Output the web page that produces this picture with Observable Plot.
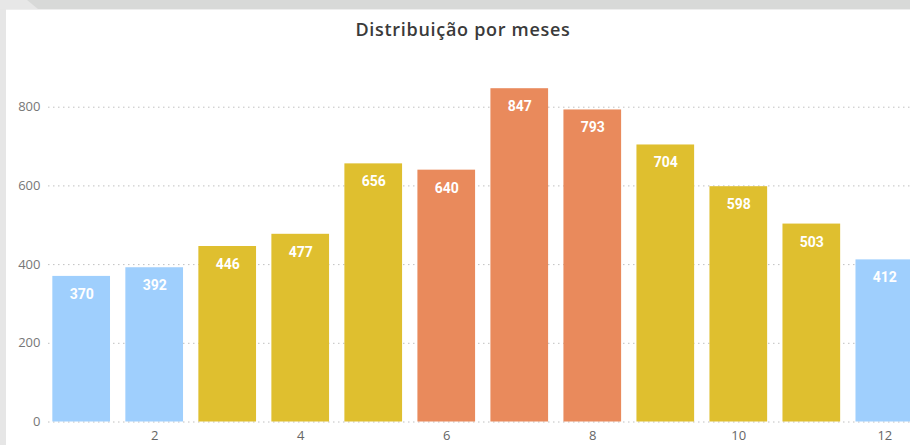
<!DOCTYPE html>
<html>
<head>
<meta charset="utf-8">
<script src="https://cdn.jsdelivr.net/npm/d3@7"></script>
<script src="https://cdn.jsdelivr.net/npm/@observablehq/plot@0.6"></script>
<style>
  html, body { margin: 0; padding: 0; background: #ffffff; overflow: hidden; width: 910px; height: 445px; }
  #wrap { position: relative; width: 910px; height: 445px; }
  #title { height: 50px; box-sizing: border-box; padding-top: 19px; padding-left: 16px; text-align: center;
           font-family: 'Open Sans', sans-serif; font-weight: 600; font-size: 18px; line-height: 20px;
           letter-spacing: 0.7px; color: #3a3a3a; }
  #topband { position: absolute; left: 0; top: 0; width: 910px; height: 9px; background: #d8d9d8; }
  #topline { position: absolute; left: 0; top: 9px; width: 910px; height: 1px; background: #eeeeee; }
  #corner { position: absolute; left: 0; top: 0; width: 38px; height: 9px; background: #e7e7e7;
            clip-path: polygon(0 0, 27px 0, 38px 100%, 0 100%); }
  #leftband { position: absolute; left: 0; top: 9px; width: 6px; height: 436px; background: #e6e6e6; }
  #chart svg { display: block; }
</style>
</head>
<body>
<div id="wrap">
  <div id="title">Distribuição por meses</div>
  <div id="chart"></div>
  <div id="topband"></div>
  <div id="corner"></div>
  <div id="topline"></div>
  <div id="leftband"></div>
</div>
<script>
const months = [1, 2, 3, 4, 5, 6, 7, 8, 9, 10, 11, 12];
const values = [370, 392, 446, 477, 656, 640, 847, 793, 704, 598, 503, 412];
const groups = ["Inverno", "Inverno", "Outro", "Outro", "Outro", "Verão", "Verão", "Verão", "Outro", "Outro", "Outro", "Inverno"];
const groupNames = ["Inverno", "Outro", "Verão"];
const groupColors = ["#9fcffd", "#dfbf2f", "#e98a5c"];
const xTicks = [2, 4, 6, 8, 10, 12];
const yTicks = [0, 200, 400, 600, 800];

const data = months.map((m, i) => ({ month: m, value: values[i], group: groups[i] }));

const chart = Plot.plot({
  width: 910,
  height: 395,
  marginLeft: 48,
  marginRight: 0,
  marginTop: 0,
  marginBottom: 23.5,
  style: { background: "transparent", overflow: "hidden" },
  x: { type: "band", domain: months, range: [37, 928.5], padding: 0.21, round: false },
  y: { domain: [0, 800], range: [371.5, 56.7] },
  color: { domain: groupNames, range: groupColors },
  marks: [
    Plot.gridY(yTicks, { stroke: "#c0c0c0", strokeOpacity: 1, strokeDasharray: "1.5,3.5", strokeWidth: 1 }),
    Plot.barY(data, { x: "month", y: "value", fill: "group" }),
    Plot.text(data, { x: "month", y: "value", text: d => String(d.value), dy: 18, fill: "white",
      fontFamily: "Roboto, sans-serif", fontWeight: 700, fontSize: 14 }),
    Plot.axisX({ ticks: xTicks, tickSize: 0, tickPadding: 9, fontSize: 13, fill: "#666666",
      fontFamily: "'Open Sans', sans-serif", label: null }),
    Plot.axisY({ ticks: yTicks, tickSize: 0, tickPadding: 8, fontSize: 13, fill: "#777777",
      fontFamily: "'Open Sans', sans-serif", label: null })
  ]
});
document.getElementById("chart").appendChild(chart);
</script>
</body>
</html>
